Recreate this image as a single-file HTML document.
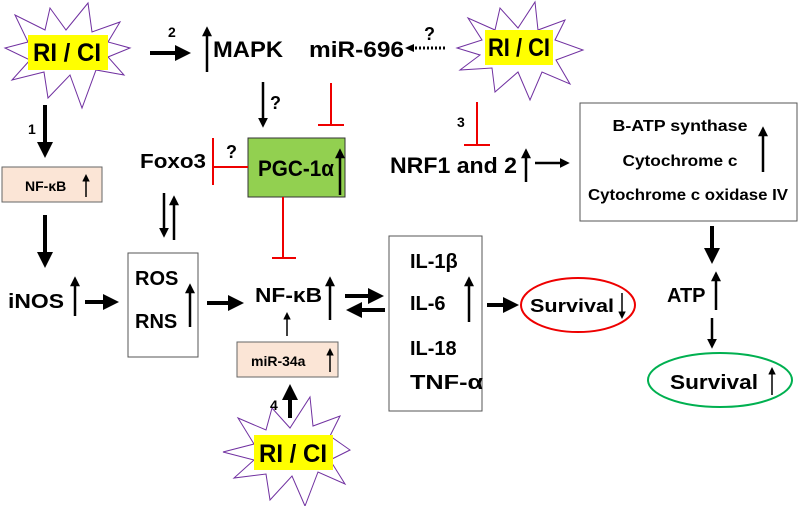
<!DOCTYPE html>
<html><head><meta charset="utf-8"><style>
html,body{margin:0;padding:0;background:#fff;}
svg{display:block;font-family:"Liberation Sans",sans-serif;font-weight:bold;}
</style></head><body>
<svg width="799" height="506" viewBox="0 0 799 506" xmlns="http://www.w3.org/2000/svg">
<defs>
<marker id="ah" markerWidth="4" markerHeight="4" refX="2.5" refY="2" orient="auto" markerUnits="strokeWidth"><path d="M0,0 L4,2 L0,4 z" fill="#000"/></marker>
<marker id="ahs" markerWidth="5" markerHeight="5" refX="3" refY="2.5" orient="auto" markerUnits="strokeWidth"><path d="M0,0 L5,2.5 L0,5 z" fill="#000"/></marker>
</defs>
<g fill="#fff" stroke="#7030a0" stroke-width="1">
<polygon points="88,3 92,32 120,22 108,42 130,48 108,57 124,75 96,70 82,108 70,75 48,98 44,72 12,80 30,60 5,48 28,42 15,15 45,30 50,8 66,30"/>
<polygon points="535,2 538,30 565,20 555,40 583,50 556,60 570,84 542,72 530,100 518,72 495,92 492,68 460,70 480,55 457,48 482,40 468,18 495,30 500,8 518,28"/>
<polygon points="310,397 313,426 340,416 330,436 350,450 330,460 345,484 318,472 305,506 292,476 270,500 266,474 234,478 254,460 223,452 254,444 238,418 266,430 272,408 290,428"/>
</g>
<g fill="#ffff00"><rect x="28" y="35" width="80" height="35"/><rect x="485" y="30" width="68" height="35"/><rect x="254" y="435" width="79" height="35"/></g>
<g font-size="25" fill="#000" text-anchor="middle">
<text x="67" y="61" textLength="68" lengthAdjust="spacingAndGlyphs">RI / CI</text>
<text x="519" y="56" textLength="62" lengthAdjust="spacingAndGlyphs">RI / CI</text>
<text x="293" y="462" textLength="68" lengthAdjust="spacingAndGlyphs">RI / CI</text>
</g>
<rect x="2" y="167" width="100" height="35" fill="#fbe5d6" stroke="#666"/>
<rect x="237" y="342" width="101" height="35" fill="#fbe5d6" stroke="#666"/>
<rect x="128" y="253" width="70" height="104" fill="#fff" stroke="#555"/>
<rect x="389" y="236" width="93" height="175" fill="#fff" stroke="#555"/>
<rect x="580" y="103" width="217" height="118" fill="#fff" stroke="#555"/>
<rect x="248" y="138" width="97" height="59" fill="#92d050" stroke="#333"/>
<ellipse cx="578" cy="305" rx="57" ry="27" fill="none" stroke="#e00" stroke-width="2"/>
<ellipse cx="720" cy="380" rx="72" ry="27" fill="none" stroke="#00b050" stroke-width="2"/>
<g fill="#000">
<text x="25" y="191" font-size="14">NF-κB</text>
<text x="251" y="366" font-size="14">miR-34a</text>
<text x="213" y="57" font-size="22" textLength="70" lengthAdjust="spacingAndGlyphs">MAPK</text>
<text x="309" y="57" font-size="22" textLength="95" lengthAdjust="spacingAndGlyphs">miR-696</text>
<text x="140" y="168" font-size="20" textLength="66" lengthAdjust="spacingAndGlyphs">Foxo3</text>
<text x="258" y="176" font-size="22" textLength="76" lengthAdjust="spacingAndGlyphs">PGC-1α</text>
<text x="390" y="173" font-size="22" textLength="127" lengthAdjust="spacingAndGlyphs">NRF1 and 2</text>
<text x="8" y="308" font-size="20" textLength="56" lengthAdjust="spacingAndGlyphs">iNOS</text>
<text x="135" y="285" font-size="20">ROS</text>
<text x="135" y="328" font-size="20">RNS</text>
<text x="255" y="302" font-size="20" textLength="67" lengthAdjust="spacingAndGlyphs">NF-κB</text>
<text x="410" y="268" font-size="20">IL-1β</text>
<text x="410" y="310" font-size="20">IL-6</text>
<text x="410" y="355" font-size="20">IL-18</text>
<text x="410" y="389" font-size="20" textLength="73" lengthAdjust="spacingAndGlyphs">TNF-α</text>
<text x="530" y="312" font-size="18" textLength="84" lengthAdjust="spacingAndGlyphs">Survival</text>
<text x="667" y="302" font-size="20">ATP</text>
<text x="670" y="389" font-size="20" textLength="88" lengthAdjust="spacingAndGlyphs">Survival</text>
<g font-size="16" text-anchor="middle">
<text x="680" y="131" textLength="135" lengthAdjust="spacingAndGlyphs">B-ATP synthase</text>
<text x="680" y="166" textLength="115" lengthAdjust="spacingAndGlyphs">Cytochrome c</text>
<text x="688" y="200" textLength="200" lengthAdjust="spacingAndGlyphs">Cytochrome c oxidase IV</text>
</g>
<g font-size="14"><text x="28" y="134">1</text><text x="168" y="37">2</text><text x="457" y="127">3</text><text x="270" y="410">4</text></g>
<g font-size="18"><text x="270" y="109">?</text><text x="226" y="158">?</text><text x="424" y="40">?</text></g>
</g>
<g stroke="#000" fill="none">
<g stroke-width="4" marker-end="url(#ah)">
<line x1="45" y1="105" x2="45" y2="152"/>
<line x1="150" y1="53" x2="185" y2="53"/>
<line x1="85" y1="302" x2="113" y2="302"/>
<line x1="207" y1="303" x2="238" y2="303"/>
<line x1="345" y1="296" x2="378" y2="296"/>
<line x1="385" y1="310" x2="352" y2="310"/>
<line x1="487" y1="305" x2="513" y2="305"/>
<line x1="290" y1="418" x2="290" y2="390"/>
<line x1="712" y1="226" x2="712" y2="258"/>
</g>
<g stroke-width="2.5" marker-end="url(#ah)">
<line x1="207" y1="72" x2="207" y2="30"/>
<line x1="263" y1="82" x2="263" y2="124"/>
<line x1="164" y1="193" x2="164" y2="234"/>
<line x1="174" y1="240" x2="174" y2="199"/>
<line x1="75" y1="316" x2="75" y2="280"/>
<line x1="190" y1="327" x2="190" y2="287"/>
<line x1="330" y1="320" x2="330" y2="280"/>
<line x1="469" y1="322" x2="469" y2="280"/>
<line x1="340" y1="195" x2="340" y2="152"/>
<line x1="763" y1="172" x2="763" y2="130"/>
<line x1="716" y1="310" x2="716" y2="275"/>
<line x1="712" y1="318" x2="712" y2="345"/>
<line x1="535" y1="163" x2="566" y2="163"/>
<line x1="526" y1="182" x2="526" y2="152"/>
</g>
<line x1="45" y1="215" x2="45" y2="258" stroke-width="4"/>
<line x1="45" y1="258" x2="45" y2="262" stroke-width="4" marker-end="url(#ah)"/>
<g stroke-width="1.5" marker-end="url(#ahs)">
<line x1="86" y1="197" x2="86" y2="177"/>
<line x1="330" y1="372" x2="330" y2="351"/>
<line x1="287" y1="336" x2="287" y2="315"/>
<line x1="622" y1="293" x2="622" y2="316"/>
<line x1="772" y1="395" x2="772" y2="370"/>
</g>
<line x1="445" y1="48" x2="414" y2="48" stroke-width="3" stroke-dasharray="2,2"/>
<path d="M405,48 L414,44 L414,52 z" fill="#000" stroke="none"/>
</g>
<g stroke="#e00" stroke-width="2" fill="none">
<line x1="248" y1="167" x2="213" y2="167"/><line x1="213" y1="138" x2="213" y2="185"/>
<line x1="331" y1="83" x2="331" y2="125"/><line x1="318" y1="125" x2="344" y2="125"/>
<line x1="283" y1="197" x2="283" y2="258"/><line x1="272" y1="258" x2="296" y2="258"/>
<line x1="477" y1="102" x2="477" y2="145"/><line x1="464" y1="145" x2="490" y2="145"/>
</g>
</svg>
</body></html>
